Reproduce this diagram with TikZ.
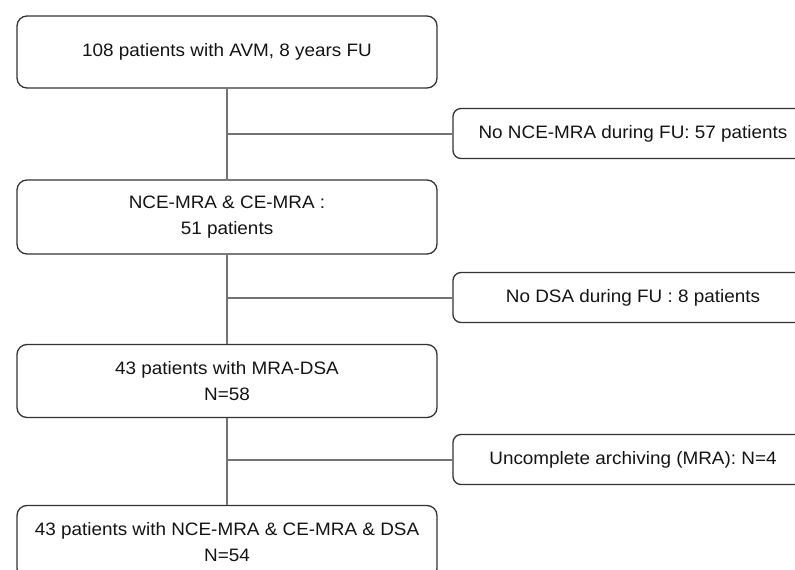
\documentclass[tikz,border=0pt]{standalone}
\usepackage{fontspec}
\setmainfont{Liberation Sans}[FakeStretch=1.05]
\begin{document}
\begin{tikzpicture}[x=1pt,y=-1pt,
  mainbox/.style={draw=black!80, line width=1.3pt, rounded corners=10pt, minimum width=420pt, align=center, inner sep=0pt, text=black!92, font=\fontsize{18}{26}\selectfont},
  sidebox/.style={draw=black!80, line width=1.3pt, rounded corners=8pt, minimum width=360pt, minimum height=50pt, align=center, inner sep=0pt, text=black!92, font=\fontsize{18}{26}\selectfont},
  link/.style={draw=black!55, line width=2pt}]
\useasboundingbox (0,0) rectangle (795,570);
\node[mainbox, minimum height=72pt] (b1) at (227,52) {108 patients with AVM, 8 years FU};
\node[mainbox, minimum height=74pt] (b2) at (227,217) {NCE-MRA \& CE-MRA :\\51 patients};
\node[mainbox, minimum height=73pt] (b3) at (227,381) {43 patients with MRA-DSA\\N=58};
\node[mainbox, minimum height=73pt] (b4) at (227,542) {43 patients with NCE-MRA \& CE-MRA \& DSA\\N=54};
\node[sidebox] (s1) at (633,133.5) {No NCE-MRA during FU: 57 patients};
\node[sidebox] (s2) at (633,297.5) {No DSA during FU : 8 patients};
\node[sidebox] (s3) at (633,459.5) {Uncomplete archiving (MRA): N=4};
\draw[link] (b1.south) -- (b2.north);
\draw[link] (b2.south) -- (b3.north);
\draw[link] (b3.south) -- (b4.north);
\draw[link] (b1.south |- s1.west) -- (s1.west);
\draw[link] (b2.south |- s2.west) -- (s2.west);
\draw[link] (b3.south |- s3.west) -- (s3.west);
\end{tikzpicture}
\end{document}
